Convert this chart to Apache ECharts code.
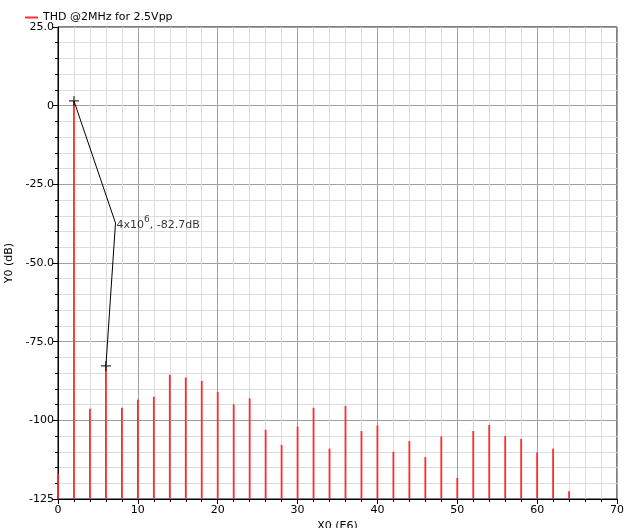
<!DOCTYPE html>
<html>
<head>
<meta charset="utf-8">
<script src="https://cdn.jsdelivr.net/npm/echarts@6/dist/echarts.min.js"></script>
<style>
  html, body { margin: 0; padding: 0; background: #fff; }
  #chart { width: 624px; height: 528px; }
</style>
</head>
<body>
<div id="chart"></div>
<script>
// Harmonic frequencies (MHz) and spectrum level (dB)
const freqMHz = [0, 2, 4, 6, 8, 10, 12, 14, 16, 18, 20, 22, 24, 26, 28, 30, 32,
                 34, 36, 38, 40, 42, 44, 46, 48, 50, 52, 54, 56, 58, 60, 62, 64];
const levelDb = [-117, 1.5, -96.3, -82.7, -96, -93.4, -92.5, -85.5, -86.4, -87.5, -91,
                 -94.9, -93, -103, -107.8, -102, -96, -109, -95.4, -103.4, -101.6,
                 -110, -106.6, -111.7, -105.1, -118.3, -103.4, -101.5, -105, -105.9,
                 -110.2, -109, -122.5];
// Marker annotation: fundamental, label anchor, third harmonic
const markerPts = [[2, 1.5], [7.2, -37.3], [6, -82.7]];
const yTickLabels = { '25': '25.0', '0': '0', '-25': '-25.0', '-50': '-50.0',
                      '-75': '-75.0', '-100': '-100', '-125': '-125' };

const FONT = 'DejaVu Sans';
const Y_MIN = -125;
const SERIES_NAME = 'THD @2MHz for 2.5Vpp';

const chart = echarts.init(document.getElementById('chart'), null, { renderer: 'canvas' });

chart.setOption({
  animation: false,
  legend: {
    left: 20, top: 7,
    itemWidth: 13, itemHeight: 2, itemGap: 6,
    icon: 'rect',
    data: [{ name: SERIES_NAME, itemStyle: { color: '#ff3030' } }],
    textStyle: { fontFamily: FONT, fontSize: 11, color: '#000' }
  },
  grid: {
    left: 58, top: 27, right: 7, bottom: 29,
    outerBoundsMode: 'none', containLabel: false,
    show: true, borderColor: '#000', borderWidth: 1, backgroundColor: 'transparent'
  },
  xAxis: {
    type: 'value', min: 0, max: 70, interval: 10,
    name: 'X0 (E6)', nameLocation: 'middle', nameGap: 19,
    nameTextStyle: { fontFamily: FONT, fontSize: 11, color: '#000' },
    axisLine: { show: true, onZero: false, lineStyle: { color: '#000', width: 1 } },
    axisTick: { show: true, length: 5, lineStyle: { color: '#000' } },
    minorTick: { show: true, splitNumber: 5, length: 3, lineStyle: { color: '#000' } },
    axisLabel: { fontFamily: FONT, fontSize: 11, color: '#000', margin: 6 },
    splitLine: { show: true, lineStyle: { color: '#a0a0a0', width: 1 } },
    minorSplitLine: { show: true, lineStyle: { color: '#dcdcdc', width: 1 } }
  },
  yAxis: {
    type: 'value', min: Y_MIN, max: 25, interval: 25,
    name: 'Y0 (dB)', nameLocation: 'middle', nameGap: 40, nameRotate: 90,
    nameTextStyle: { fontFamily: FONT, fontSize: 11, color: '#000' },
    axisLine: { show: true, onZero: false, lineStyle: { color: '#000', width: 1 } },
    axisTick: { show: true, length: 5, lineStyle: { color: '#000' } },
    minorTick: { show: true, splitNumber: 5, length: 3, lineStyle: { color: '#000' } },
    axisLabel: {
      fontFamily: FONT, fontSize: 11, color: '#000', margin: 4,
      formatter: v => yTickLabels[String(v)] !== undefined ? yTickLabels[String(v)] : String(v)
    },
    splitLine: { show: true, lineStyle: { color: '#a0a0a0', width: 1 } },
    minorSplitLine: { show: true, lineStyle: { color: '#dcdcdc', width: 1 } }
  },
  series: [
    {
      // spectral stems drawn from the bottom of the axis up to each level
      name: SERIES_NAME,
      type: 'custom',
      itemStyle: { color: '#ff3030' },
      data: freqMHz.map((f, i) => [f, levelDb[i]]),
      renderItem: (params, api) => {
        const top = api.coord([api.value(0), api.value(1)]);
        const base = api.coord([api.value(0), Y_MIN]);
        return {
          type: 'line',
          shape: { x1: top[0], y1: top[1], x2: base[0], y2: base[1] },
          style: { stroke: '#ff2a2a', lineWidth: 1.8 }
        };
      },
      z: 2
    },
    {
      // leader line of the marker readout
      type: 'line',
      data: markerPts,
      symbol: 'none',
      lineStyle: { color: '#000', width: 1 },
      silent: true,
      z: 3
    },
    {
      // cross markers on the two measured peaks
      type: 'scatter',
      data: [markerPts[0], markerPts[2]],
      symbol: 'path://M0,5L10,5M5,0L5,10',
      symbolSize: 10,
      itemStyle: { color: 'none', borderColor: '#000', borderWidth: 1.2 },
      silent: true,
      z: 4
    },
    {
      // marker readout text
      type: 'scatter',
      data: [markerPts[1]],
      symbolSize: 0,
      silent: true,
      label: {
        show: true,
        position: 'right',
        distance: 1,
        formatter: '{b|4x10}{s|6}{b|, -82.7dB}',
        rich: {
          b: { fontFamily: FONT, fontSize: 11, color: '#000', lineHeight: 16, verticalAlign: 'bottom' },
          s: { fontFamily: FONT, fontSize: 9, color: '#000', lineHeight: 16, verticalAlign: 'top' }
        }
      },
      z: 5
    }
  ]
});
</script>
</body>
</html>
